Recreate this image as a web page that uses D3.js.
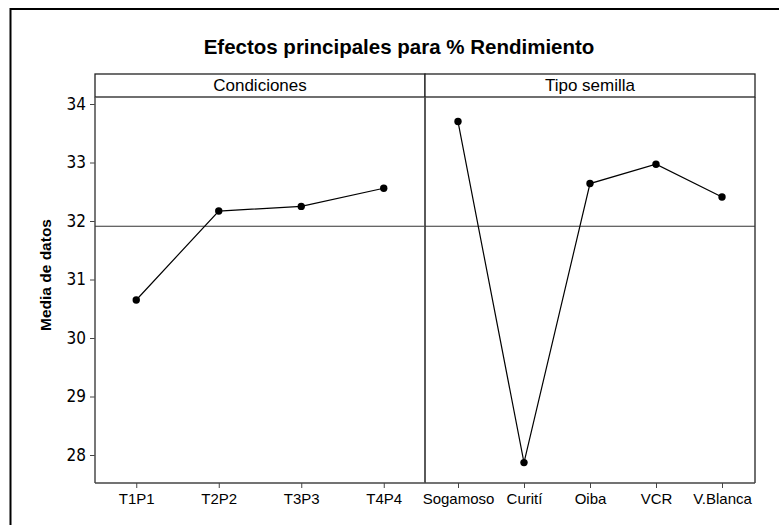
<!DOCTYPE html>
<html><head><meta charset="utf-8">
<script src="https://cdn.jsdelivr.net/npm/d3@7"></script>
<style>body{margin:0;background:#fff}svg{display:block}</style>
</head><body>
<svg id="c" width="779" height="525"></svg>
<script>
const titleText = "Efectos principales para % Rendimiento";
const yLabel = "Media de datos";
const panelNames = ["Condiciones", "Tipo semilla"];
const condCats = ["T1P1", "T2P2", "T3P3", "T4P4"];
const condVals = [30.65, 32.17, 32.25, 32.56];
const seedCats = ["Sogamoso", "Curití", "Oiba", "VCR", "V.Blanca"];
const seedVals = [33.70, 27.87, 32.64, 32.97, 32.41];
const yTicks = [28, 29, 30, 31, 32, 33, 34];
const grandMean = 31.91;

(function () {
const svg = d3.select("#c");
const plotTop = 97, plotBottom = 483, stripTop = 74;
const panels = [
  {name: panelNames[0], cats: condCats, vals: condVals, x0: 95, x1: 425},
  {name: panelNames[1], cats: seedCats, vals: seedVals, x0: 425, x1: 755}
];
const y = d3.scaleLinear().domain([28, 34]).range([455, 104]);

// outer border
svg.append("rect").attr("x", 10.5).attr("y", 9).attr("width", 820).attr("height", 600)
  .attr("fill", "none").attr("stroke", "#000").attr("stroke-width", 2);

svg.append("text").attr("x", 399).attr("y", 54).attr("text-anchor", "middle")
  .attr("font-family", "Liberation Sans, Arial, sans-serif").attr("font-weight", "bold")
  .attr("font-size", 20.5).text(titleText);

svg.append("text").attr("transform", "translate(51,275) rotate(-90)").attr("text-anchor", "middle")
  .attr("font-family", "Liberation Sans, Arial, sans-serif").attr("font-weight", "bold")
  .attr("font-size", 15.5).text(yLabel);

// y axis
const yAxis = d3.axisLeft(y).tickValues(yTicks).tickSize(5).tickPadding(4).tickFormat(d3.format("d"));
const ya = svg.append("g").attr("transform", "translate(95,0)").call(yAxis);
ya.select(".domain").remove();
ya.selectAll(".tick line").attr("stroke", "#444");
ya.selectAll(".tick text").attr("font-family", "DejaVu Sans Condensed, DejaVu Sans, sans-serif")
  .attr("font-size", 17).attr("fill", "#000");

panels.forEach((p) => {
  const x = d3.scalePoint().domain(p.cats).range([p.x0, p.x1]).padding(0.5);
  // strip
  svg.append("rect").attr("x", p.x0).attr("y", stripTop).attr("width", p.x1 - p.x0).attr("height", plotTop - stripTop)
    .attr("fill", "#fff").attr("stroke", "#222").attr("stroke-width", 1.3);
  svg.append("text").attr("x", (p.x0 + p.x1) / 2).attr("y", 91).attr("text-anchor", "middle")
    .attr("font-family", "Liberation Sans, Arial, sans-serif").attr("font-size", 17).text(p.name);
  // panel borders
  svg.append("line").attr("x1", p.x0).attr("x2", p.x0).attr("y1", plotTop).attr("y2", plotBottom)
    .attr("stroke", "#555").attr("stroke-width", 1.6);
  svg.append("line").attr("x1", p.x1).attr("x2", p.x1).attr("y1", plotTop).attr("y2", plotBottom)
    .attr("stroke", "#333").attr("stroke-width", 1.4);
  // x axis
  const xa = svg.append("g").attr("transform", `translate(0,${plotBottom})`)
    .call(d3.axisBottom(x).tickSize(5).tickPadding(5));
  xa.select(".domain").attr("d", `M${p.x0},0H${p.x1}`).attr("stroke", "#444").attr("stroke-width", 1.5);
  xa.selectAll(".tick line").attr("stroke", "#444");
  xa.selectAll(".tick text").attr("font-family", "Liberation Sans, Arial, sans-serif")
    .attr("font-size", 15).attr("fill", "#000");
  // reference line
  svg.append("line").attr("x1", p.x0).attr("x2", p.x1).attr("y1", y(grandMean)).attr("y2", y(grandMean))
    .attr("stroke", "#333").attr("stroke-width", 1.2);
  // data
  const pts = p.cats.map((c, j) => [x(c), y(p.vals[j])]);
  svg.append("path").attr("d", d3.line()(pts)).attr("fill", "none").attr("stroke", "#000").attr("stroke-width", 1.2);
  svg.append("g").selectAll("circle").data(pts).join("circle")
    .attr("cx", d => d[0]).attr("cy", d => d[1]).attr("r", 3.7).attr("fill", "#000");
});
})();
</script>
</body></html>
